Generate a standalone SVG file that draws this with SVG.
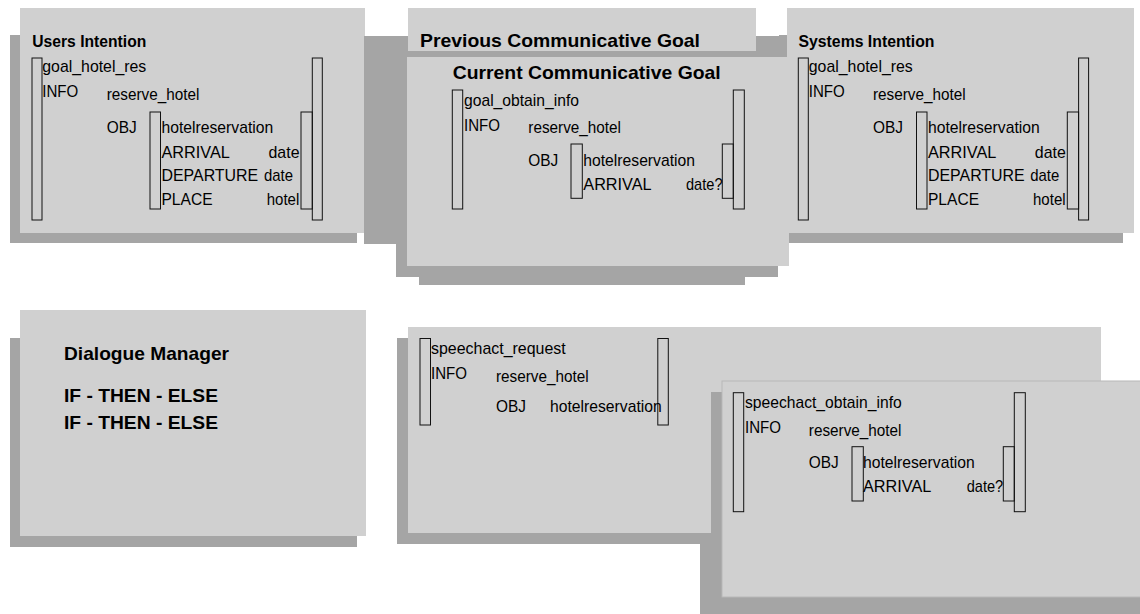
<svg xmlns="http://www.w3.org/2000/svg" width="1140" height="614" viewBox="0 0 1140 614">
<style>
  .main { fill: #d0d0d0; }
  .shadow { fill: #a5a5a5; }
  .br { fill: none; stroke: #111; stroke-width: 1; }
  text { font-family: "Liberation Sans", Arial, Helvetica, sans-serif; fill: #000; }
  .t { font-size: 17px; }
  .h { font-size: 18.5px; font-weight: bold; }
  .hs { font-size: 17px; font-weight: bold; }
</style>
<rect width="1140" height="614" fill="#ffffff"/>

<g id="users-intention">
  <rect class="shadow" x="10" y="35" width="347" height="208"/>
  <rect class="main" x="20" y="8" width="345" height="225"/>
  <text class="hs" x="32.3" y="46.7" textLength="114" lengthAdjust="spacingAndGlyphs">Users Intention</text>
  <rect class="br" x="32" y="58" width="10" height="162"/>
  <rect class="br" x="150" y="112" width="10.5" height="97"/>
  <rect class="br" x="301" y="112" width="11.3" height="97"/>
  <rect class="br" x="312.3" y="58" width="10" height="162"/>
  <text class="t" x="42.3" y="72" textLength="104" lengthAdjust="spacingAndGlyphs">goal_hotel_res</text>
  <text class="t" x="42.3" y="97" textLength="36" lengthAdjust="spacingAndGlyphs">INFO</text>
  <text class="t" x="106.7" y="99.5" textLength="92.7" lengthAdjust="spacingAndGlyphs">reserve_hotel</text>
  <text class="t" x="106.7" y="133" textLength="30" lengthAdjust="spacingAndGlyphs">OBJ</text>
  <text class="t" x="161.5" y="133" textLength="111.7" lengthAdjust="spacingAndGlyphs">hotelreservation</text>
  <text class="t" x="161.5" y="157.5" textLength="68.3" lengthAdjust="spacingAndGlyphs">ARRIVAL</text>
  <text class="t" x="268.5" y="157.5" textLength="31" lengthAdjust="spacingAndGlyphs">date</text>
  <text class="t" x="161.5" y="181" textLength="96.7" lengthAdjust="spacingAndGlyphs">DEPARTURE</text>
  <text class="t" x="264" y="181" textLength="29" lengthAdjust="spacingAndGlyphs">date</text>
  <text class="t" x="161.5" y="204.5" textLength="51" lengthAdjust="spacingAndGlyphs">PLACE</text>
  <text class="t" x="266.7" y="204.5" textLength="32.6" lengthAdjust="spacingAndGlyphs">hotel</text>
</g>

<g id="systems-intention">
  <rect class="shadow" x="779" y="35" width="344" height="208"/>
  <rect class="main" x="787" y="8" width="347" height="225"/>
  <text class="hs" x="798.5" y="46.7" textLength="136" lengthAdjust="spacingAndGlyphs">Systems Intention</text>
  <rect class="br" x="798.3" y="58" width="10" height="162"/>
  <rect class="br" x="916.5" y="112" width="10.5" height="97"/>
  <rect class="br" x="1067.3" y="112" width="11.3" height="97"/>
  <rect class="br" x="1078.6" y="58" width="10" height="162"/>
  <text class="t" x="808.8" y="72" textLength="104" lengthAdjust="spacingAndGlyphs">goal_hotel_res</text>
  <text class="t" x="808.8" y="97" textLength="36" lengthAdjust="spacingAndGlyphs">INFO</text>
  <text class="t" x="873" y="99.5" textLength="92.7" lengthAdjust="spacingAndGlyphs">reserve_hotel</text>
  <text class="t" x="873" y="133" textLength="30" lengthAdjust="spacingAndGlyphs">OBJ</text>
  <text class="t" x="928" y="133" textLength="111.7" lengthAdjust="spacingAndGlyphs">hotelreservation</text>
  <text class="t" x="928" y="157.5" textLength="68.3" lengthAdjust="spacingAndGlyphs">ARRIVAL</text>
  <text class="t" x="1034.8" y="157.5" textLength="31" lengthAdjust="spacingAndGlyphs">date</text>
  <text class="t" x="928" y="181" textLength="96.7" lengthAdjust="spacingAndGlyphs">DEPARTURE</text>
  <text class="t" x="1030.3" y="181" textLength="29" lengthAdjust="spacingAndGlyphs">date</text>
  <text class="t" x="928" y="204.5" textLength="51" lengthAdjust="spacingAndGlyphs">PLACE</text>
  <text class="t" x="1033" y="204.5" textLength="32.6" lengthAdjust="spacingAndGlyphs">hotel</text>
</g>

<g id="previous-goal">
  <rect class="shadow" x="364" y="36" width="422" height="208"/>
  <rect class="main" x="408" y="8" width="348" height="43"/>
  <text class="h" x="420" y="46.7" textLength="280" lengthAdjust="spacingAndGlyphs">Previous Communicative Goal</text>
</g>

<g id="current-goal">
  <rect class="shadow" x="419" y="250" width="326" height="35"/>
  <rect class="shadow" x="396" y="60" width="382" height="217"/>
  <rect class="main" x="407" y="57" width="382" height="209"/>
  <text class="h" x="452.7" y="79.3" textLength="268" lengthAdjust="spacingAndGlyphs">Current Communicative Goal</text>
  <rect class="br" x="452.3" y="90" width="10.4" height="119"/>
  <rect class="br" x="571" y="144" width="11.3" height="54.3"/>
  <rect class="br" x="722.3" y="144" width="11" height="54.3"/>
  <rect class="br" x="733.3" y="90" width="11" height="119"/>
  <text class="t" x="464" y="105.5" textLength="115" lengthAdjust="spacingAndGlyphs">goal_obtain_info</text>
  <text class="t" x="464" y="130.5" textLength="36" lengthAdjust="spacingAndGlyphs">INFO</text>
  <text class="t" x="528.3" y="133" textLength="92.7" lengthAdjust="spacingAndGlyphs">reserve_hotel</text>
  <text class="t" x="528.3" y="165.5" textLength="30" lengthAdjust="spacingAndGlyphs">OBJ</text>
  <text class="t" x="583.3" y="165.5" textLength="111.7" lengthAdjust="spacingAndGlyphs">hotelreservation</text>
  <text class="t" x="583.3" y="189.5" textLength="68.3" lengthAdjust="spacingAndGlyphs">ARRIVAL</text>
  <text class="t" x="686" y="189.5" textLength="36.5" lengthAdjust="spacingAndGlyphs">date?</text>
</g>

<g id="dialogue-manager">
  <rect class="shadow" x="10" y="338" width="347" height="209"/>
  <rect class="main" x="20" y="310" width="346" height="226"/>
  <text class="h" x="64" y="360" textLength="165" lengthAdjust="spacingAndGlyphs">Dialogue Manager</text>
  <text class="h" x="64" y="402.3" textLength="154" lengthAdjust="spacingAndGlyphs">IF - THEN - ELSE</text>
  <text class="h" x="64" y="429" textLength="154" lengthAdjust="spacingAndGlyphs">IF - THEN - ELSE</text>
</g>

<g id="speechact-request">
  <rect class="shadow" x="397" y="338" width="314" height="206"/>
  <rect class="main" x="408" y="327" width="693" height="206"/>
  <rect class="br" x="420" y="338.5" width="10.5" height="86.5"/>
  <rect class="br" x="657.8" y="338.5" width="10.5" height="86.5"/>
  <text class="t" x="431" y="353.5" textLength="134.7" lengthAdjust="spacingAndGlyphs">speechact_request</text>
  <text class="t" x="431" y="379" textLength="36" lengthAdjust="spacingAndGlyphs">INFO</text>
  <text class="t" x="496" y="381.5" textLength="92.7" lengthAdjust="spacingAndGlyphs">reserve_hotel</text>
  <text class="t" x="496" y="411.5" textLength="30" lengthAdjust="spacingAndGlyphs">OBJ</text>
  <text class="t" x="550" y="411.5" textLength="111.7" lengthAdjust="spacingAndGlyphs">hotelreservation</text>
</g>

<g id="speechact-obtain-info">
  <path class="shadow" d="M711,392 H1140 V614 H700 V533 H711 Z"/>
  <rect class="main" x="722" y="381" width="420" height="216" stroke="#b8b8b8" stroke-width="1"/>
  <rect class="br" x="733.3" y="392.7" width="10.4" height="119"/>
  <rect class="br" x="852" y="446.7" width="11.3" height="54.3"/>
  <rect class="br" x="1003.3" y="446.7" width="11" height="54.3"/>
  <rect class="br" x="1014.3" y="392.7" width="11" height="119"/>
  <text class="t" x="745" y="408" textLength="156.7" lengthAdjust="spacingAndGlyphs">speechact_obtain_info</text>
  <text class="t" x="745" y="433.3" textLength="36" lengthAdjust="spacingAndGlyphs">INFO</text>
  <text class="t" x="808.8" y="435.7" textLength="92.7" lengthAdjust="spacingAndGlyphs">reserve_hotel</text>
  <text class="t" x="808.8" y="467.5" textLength="30" lengthAdjust="spacingAndGlyphs">OBJ</text>
  <text class="t" x="863" y="467.5" textLength="111.7" lengthAdjust="spacingAndGlyphs">hotelreservation</text>
  <text class="t" x="863" y="492" textLength="68.3" lengthAdjust="spacingAndGlyphs">ARRIVAL</text>
  <text class="t" x="966.7" y="492" textLength="36.5" lengthAdjust="spacingAndGlyphs">date?</text>
</g>

<g id="connectors"></g>
</svg>
